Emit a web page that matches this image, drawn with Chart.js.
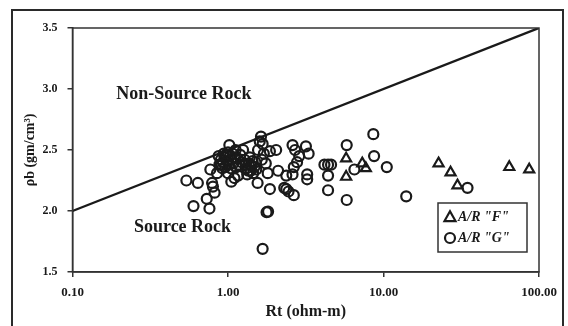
<!DOCTYPE html>
<html>
<head>
<meta charset="utf-8">
<script src="https://cdn.jsdelivr.net/npm/chart.js@4.4.1/dist/chart.umd.min.js"></script>
<style>
html,body{margin:0;padding:0;background:#fff;}
canvas{display:block;}
</style>
</head>
<body>
<canvas id="c" width="568" height="326"></canvas>
<script>
// ---- data ----
const xTickValues = [0.1, 1, 10, 100];
const xTickLabels = ["0.10", "1.00", "10.00", "100.00"];
const yTickValues = [1.5, 2.0, 2.5, 3.0, 3.5];
const yTickLabels = ["1.5", "2.0", "2.5", "3.0", "3.5"];
const xTitle = "Rt (ohm-m)";
const yTitle = "ρb (gm/cm³)";
const seriesNames = ['A/R "F"', 'A/R "G"'];
const regionLabels = ["Non-Source Rock", "Source Rock"];
const regionLabelPos = [[0.52, 2.96], [0.51, 1.87]];
const boundaryLine = [[0.1, 2.0], [100, 3.5]];

// A/R "F" (triangles): [Rt, rho_b]
const seriesF = [
  [5.75, 2.43], [5.75, 2.28], [7.3, 2.39], [7.7, 2.35],
  [22.6, 2.39], [27, 2.315], [29.9, 2.21], [64.4, 2.36], [86.5, 2.34]
];
// A/R "G" (circles): [Rt, rho_b]
const seriesG = [
  [0.54, 2.25], [0.64, 2.23], [0.60, 2.04], [0.76, 2.02], [0.73, 2.10],
  [0.77, 2.34], [0.79, 2.23], [0.82, 2.15], [0.80, 2.20], [0.85, 2.31],
  [0.88, 2.38], [0.90, 2.42], [0.93, 2.40], [0.95, 2.44], [0.97, 2.46],
  [0.98, 2.41], [1.00, 2.48], [1.02, 2.54], [1.03, 2.45], [1.05, 2.42],
  [1.07, 2.47], [1.08, 2.39], [1.10, 2.44], [1.12, 2.50], [1.15, 2.43],
  [1.18, 2.38], [0.92, 2.35], [1.00, 2.31], [1.05, 2.24], [1.10, 2.27],
  [1.16, 2.29], [0.87, 2.45], [0.94, 2.47], [1.01, 2.38], [1.20, 2.46],
  [0.90, 2.38], [0.96, 2.36], [1.04, 2.35], [1.13, 2.36], [1.22, 2.40],
  [1.25, 2.50], [1.28, 2.42], [1.32, 2.35], [1.36, 2.39], [1.40, 2.33],
  [1.42, 2.37], [1.45, 2.31], [1.48, 2.36], [1.38, 2.44], [1.33, 2.30],
  [1.30, 2.38], [1.35, 2.33], [1.44, 2.41], [1.52, 2.34],
  [1.50, 2.40], [1.55, 2.23], [1.56, 2.50], [1.60, 2.57], [1.63, 2.61],
  [1.67, 2.55], [1.70, 2.47], [1.65, 2.42], [1.75, 2.39], [1.80, 2.31],
  [1.86, 2.49], [1.86, 2.18], [1.81, 1.995], [1.77, 1.99], [1.67, 1.69],
  [2.04, 2.50], [2.10, 2.33], [2.37, 2.29], [2.37, 2.18], [2.45, 2.16],
  [2.30, 2.19], [2.65, 2.13], [2.60, 2.54], [2.65, 2.36], [2.60, 2.30],
  [2.87, 2.45], [2.78, 2.40], [2.70, 2.50], [3.17, 2.53], [3.30, 2.47],
  [3.23, 2.30], [3.23, 2.26], [4.17, 2.38], [4.40, 2.38], [4.60, 2.38],
  [4.40, 2.29], [4.40, 2.17], [5.8, 2.54], [5.8, 2.09], [6.5, 2.34],
  [8.6, 2.63], [8.7, 2.45], [10.5, 2.36], [14, 2.12], [34.7, 2.19]
];

const ink = '#1a1a1a';
const serif = '"Liberation Serif", "DejaVu Serif", serif';
const toPts = arr => arr.map(p => ({x: p[0], y: p[1]}));

const framePlugin = {
  id: 'frame',
  beforeDraw(chart) {
    const ctx = chart.ctx;
    ctx.save();
    ctx.fillStyle = '#fff';
    ctx.fillRect(0, 0, chart.width, chart.height);
    ctx.strokeStyle = '#2a2a2a';
    ctx.lineWidth = 2;
    ctx.strokeRect(12, 10, 551, 340);
    ctx.restore();
  },
  afterDatasetsDraw(chart) {
    const {ctx, chartArea: a, scales} = chart;
    ctx.save();
    // plot box
    ctx.strokeStyle = '#333';
    ctx.lineWidth = 1.5;
    ctx.strokeRect(a.left, a.top, a.right - a.left, a.bottom - a.top);
    // region labels
    ctx.fillStyle = ink;
    ctx.font = 'bold 18px ' + serif;
    ctx.textAlign = 'center';
    ctx.textBaseline = 'middle';
    regionLabels.forEach((t, i) => {
      ctx.fillText(t, scales.x.getPixelForValue(regionLabelPos[i][0]),
                      scales.y.getPixelForValue(regionLabelPos[i][1]));
    });
    // legend box
    const lx = 438, ly = 203, lw = 89, lh = 49;
    ctx.fillStyle = '#fff';
    ctx.fillRect(lx, ly, lw, lh);
    ctx.strokeStyle = '#333';
    ctx.lineWidth = 1.5;
    ctx.strokeRect(lx, ly, lw, lh);
    ctx.strokeStyle = ink;
    ctx.lineWidth = 2.2;
    // triangle
    const tx = 450, ty = 217, r = 5.8;
    ctx.beginPath();
    ctx.moveTo(tx, ty - r);
    ctx.lineTo(tx + r * 0.95, ty + r * 0.7);
    ctx.lineTo(tx - r * 0.95, ty + r * 0.7);
    ctx.closePath();
    ctx.stroke();
    // circle
    ctx.beginPath();
    ctx.arc(450, 238, 5, 0, Math.PI * 2);
    ctx.stroke();
    ctx.fillStyle = ink;
    ctx.font = 'italic bold 14px ' + serif;
    ctx.textAlign = 'left';
    ctx.fillText(seriesNames[0], 458, 217);
    ctx.fillText(seriesNames[1], 458, 238);
    ctx.restore();
  }
};

new Chart(document.getElementById('c'), {
  type: 'scatter',
  data: {
    datasets: [
      {
        type: 'line',
        label: 'boundary',
        data: toPts(boundaryLine),
        borderColor: ink,
        borderWidth: 2.4,
        pointRadius: 0,
        fill: false
      },
      {
        label: seriesNames[0],
        data: toPts(seriesF),
        pointStyle: 'triangle',
        pointRadius: 5.8,
        borderWidth: 2.2,
        borderColor: ink,
        backgroundColor: 'rgba(0,0,0,0)'
      },
      {
        label: seriesNames[1],
        data: toPts(seriesG),
        pointStyle: 'circle',
        pointRadius: 5,
        borderWidth: 2.2,
        borderColor: ink,
        backgroundColor: 'rgba(0,0,0,0)'
      }
    ]
  },
  options: {
    responsive: false,
    animation: false,
    layout: {padding: {left: 0, top: 28, right: 29, bottom: 0}},
    plugins: {legend: {display: false}, tooltip: {enabled: false}},
    scales: {
      x: {
        type: 'logarithmic',
        min: 0.1, max: 100,
        afterBuildTicks: s => { s.ticks = xTickValues.map(v => ({value: v})); },
        afterFit: s => { s.height = 54; },
        ticks: {
          color: ink,
          font: {family: serif, size: 13, weight: 'bold'},
          padding: 8,
          maxRotation: 0,
          autoSkip: false,
          callback: (v, i) => xTickLabels[i]
        },
        grid: {drawOnChartArea: false, tickLength: 5, color: '#333', lineWidth: 1.5},
        border: {color: '#333', width: 1.5},
        title: {
          display: true, text: xTitle, color: ink,
          font: {family: serif, size: 16, weight: 'bold'},
          padding: {top: 0, bottom: 5}
        }
      },
      y: {
        type: 'linear',
        min: 1.5, max: 3.5,
        afterBuildTicks: s => { s.ticks = yTickValues.map(v => ({value: v})); },
        afterFit: s => { s.width = 72.5; },
        ticks: {
          color: ink,
          font: {family: serif, size: 12, weight: 'bold'},
          padding: 10,
          autoSkip: false,
          callback: (v, i) => yTickLabels[i]
        },
        grid: {drawOnChartArea: false, tickLength: 5, color: '#333', lineWidth: 1.5},
        border: {color: '#333', width: 1.5},
        title: {
          display: true, text: yTitle, color: ink,
          font: {family: serif, size: 14, weight: 'bold'},
          padding: {top: 22, bottom: 0}
        }
      }
    }
  },
  plugins: [framePlugin]
});
</script>
</body>
</html>
